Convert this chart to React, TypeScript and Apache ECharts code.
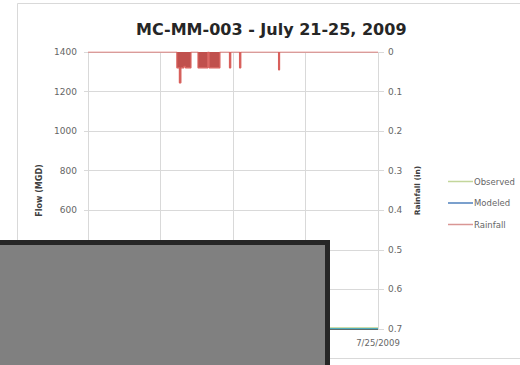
import React, { useEffect, useRef } from "react";
import * as echarts from "echarts";

const titleText = "MC-MM-003 - July 21-25, 2009";
const dayTicks = ["2009-07-21", "2009-07-22", "2009-07-23", "2009-07-24", "2009-07-25"];
const flowTicks = [0, 200, 400, 600, 800, 1000, 1200, 1400];
const rainTicks = [0, 0.1, 0.2, 0.3, 0.4, 0.5, 0.6, 0.7];

// Rainfall (in), step series: value held until next timestamp
const rainTimes = [
  "2009-07-21 00:00", "2009-07-22 05:25", "2009-07-22 06:15", "2009-07-22 06:45",
  "2009-07-22 07:45", "2009-07-22 08:15", "2009-07-22 10:05", "2009-07-22 12:25",
  "2009-07-22 15:40", "2009-07-22 16:05", "2009-07-22 19:40", "2009-07-22 22:50",
  "2009-07-22 23:15", "2009-07-23 02:10", "2009-07-23 02:35", "2009-07-23 15:05",
  "2009-07-23 15:25", "2009-07-25 00:00",
];
const rainValues = [
  0, 0.04, 0.078, 0.04, 0.036, 0.04, 0, 0.04,
  0, 0.04, 0, 0.04,
  0, 0.04, 0, 0.045,
  0, 0,
];

// Flow (MGD) - mostly hidden in the reference, visible near zero at the end
const flowTimes = [
  "2009-07-21 00:00", "2009-07-21 12:00", "2009-07-22 00:00", "2009-07-22 12:00",
  "2009-07-23 00:00", "2009-07-23 12:00", "2009-07-24 00:00", "2009-07-24 12:00",
  "2009-07-25 00:00",
];
const observedValues = [4, 5, 4, 6, 5, 5, 4, 4, 4];
const modeledValues = [2, 3, 2, 3, 3, 3, 2, 2, 2];

const toTs = (s: string) => {
  const [d, t] = s.split(" ");
  const [y, m, dd] = d.split("-").map(Number);
  const [hh, mm] = (t || "00:00").split(":").map(Number);
  return new Date(y, m - 1, dd, hh, mm).getTime();
};

const FONT = "'DejaVu Sans', sans-serif";

export default function App() {
  const ref = useRef<HTMLDivElement>(null);
  useEffect(() => {
    if (!ref.current) return;
    const chart = echarts.init(ref.current, null, { renderer: "svg" });
    const xMin = toTs(dayTicks[0] + " 00:00");
    const xMax = toTs(dayTicks[dayTicks.length - 1] + " 00:00");
    chart.setOption({
      animation: false,
      backgroundColor: "#ffffff",
      textStyle: { fontFamily: FONT },
      title: {
        text: titleText,
        left: 131,
        top: 16,
        textStyle: {
          fontSize: 16,
          fontWeight: "bold",
          color: "#262626",
          fontFamily: FONT,
        },
      },
      grid: { left: 88, right: 142, top: 52, bottom: 36, containLabel: false },
      legend: {
        orient: "vertical",
        left: 443,
        top: 171,
        itemGap: 10.5,
        itemWidth: 25,
        itemHeight: 1.5,
        icon: "rect",
        textStyle: {
          fontSize: 8.5,
          color: "#666666",
          lineHeight: 11,
          padding: [0, 0, 0, -4],
          fontFamily: FONT,
        },
        data: [
          { name: "Observed", itemStyle: { color: "#c3d69b" } },
          { name: "Modeled", itemStyle: { color: "#4f81bd" } },
          { name: "Rainfall", itemStyle: { color: "#d99694" } },
        ],
      },
      xAxis: {
        type: "time",
        min: xMin,
        max: xMax,
        interval: 86400000,
        axisLine: { show: true, lineStyle: { color: "#5f6b6b", width: 1 } },
        axisTick: { show: false },
        splitLine: { show: true, lineStyle: { color: "#d9d9d9", width: 1 } },
        axisLabel: {
          fontSize: 8.5,
          color: "#666666",
          margin: 9,
          showMinLabel: true,
          showMaxLabel: true,
          formatter: (v: number) => {
            const d = new Date(v);
            return `${d.getMonth() + 1}/${d.getDate()}/${d.getFullYear()}`;
          },
        },
      },
      yAxis: [
        {
          type: "value",
          min: flowTicks[0],
          max: flowTicks[flowTicks.length - 1],
          interval: 200,
          name: "Flow (MGD)",
          nameLocation: "middle",
          nameRotate: 90,
          nameGap: 44,
          nameTextStyle: { fontSize: 8, fontWeight: "bold", color: "#404040" },
          axisLine: { show: false },
          axisTick: { show: true, length: 4, lineStyle: { color: "#d9d9d9" } },
          splitLine: { show: true, lineStyle: { color: "#d9d9d9", width: 1 } },
          axisLabel: {
            fontSize: 9,
            color: "#666666",
            margin: 11,
            formatter: (v: number) => String(v),
          },
        },
        {
          type: "value",
          min: rainTicks[0],
          max: rainTicks[rainTicks.length - 1],
          interval: 0.1,
          inverse: true,
          name: "Rainfall (in)",
          nameLocation: "middle",
          nameRotate: 90,
          nameGap: 33,
          nameTextStyle: { fontSize: 7.5, fontWeight: "bold", color: "#404040" },
          axisLine: { show: false },
          axisTick: { show: true, length: 6, lineStyle: { color: "#d9d9d9" } },
          splitLine: { show: false },
          axisLabel: {
            fontSize: 9,
            color: "#666666",
            margin: 10,
            formatter: (v: number) => String(Math.round(v * 10) / 10),
          },
        },
      ],
      series: [
        {
          name: "Observed",
          type: "line",
          yAxisIndex: 0,
          symbol: "none",
          color: "#9bbb59",
          lineStyle: { width: 1.5, color: "#9bbb59" },
          data: flowTimes.map((t, i) => [toTs(t), observedValues[i]]),
        },
        {
          name: "Modeled",
          type: "line",
          yAxisIndex: 0,
          symbol: "none",
          color: "#4f81bd",
          lineStyle: { width: 1, color: "#4aacc6" },
          data: flowTimes.map((t, i) => [toTs(t), modeledValues[i]]),
        },
        {
          name: "Rainfall",
          type: "line",
          yAxisIndex: 1,
          symbol: "none",
          step: "end",
          color: "#c0504d",
          lineStyle: { width: 1.2, color: "#d9605c" },
          areaStyle: { color: "#c0504d", opacity: 1 },
          data: rainTimes.map((t, i) => [toTs(t), rainValues[i]]),
          z: 3,
        },
      ],
      graphic: [
        {
          type: "rect",
          shape: { x: 17.5, y: 3.5, width: 510, height: 355 },
          style: { fill: "none", stroke: "#d9d9d9", lineWidth: 1 },
          z: -1,
          silent: true,
        },
        {
          type: "rect",
          shape: { x: -10, y: 242.5, width: 337.5, height: 140 },
          style: { fill: "#808080", stroke: "#262626", lineWidth: 5 },
          z: 100,
          silent: true,
        },
      ],
    });
    return () => chart.dispose();
  }, []);
  return (
    <div
      ref={ref}
      style={{ position: "fixed", left: 0, top: 0, width: 520, height: 365 }}
    />
  );
}
